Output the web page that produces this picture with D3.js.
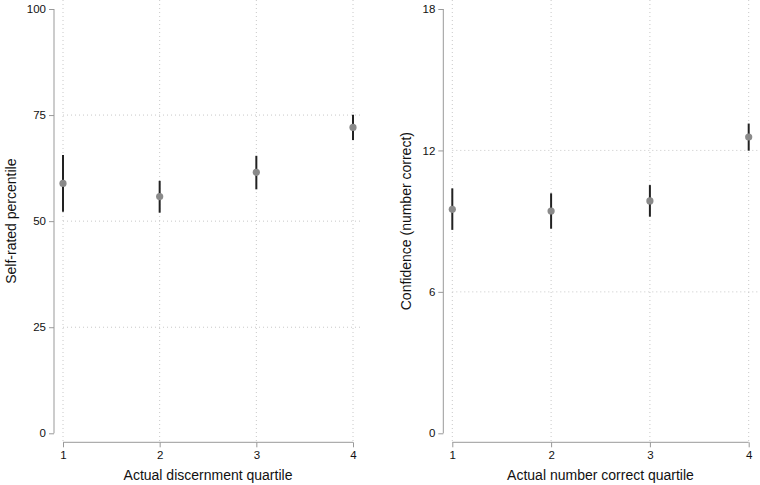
<!DOCTYPE html>
<html>
<head>
<meta charset="utf-8">
<script src="https://cdn.jsdelivr.net/npm/d3@7"></script>
<style>
  html, body { margin: 0; padding: 0; background: #fff; }
  svg { display: block; font-family: "Liberation Sans", Arial, Helvetica, sans-serif; }
</style>
</head>
<body>
<svg id="chart" width="760" height="485"></svg>
<script>
// ---- Data ----
const quartiles = [1, 2, 3, 4];

const leftMeans = [58.9, 55.8, 61.5, 72.1];
const leftLower = [52.2, 52.0, 57.5, 69.1];
const leftUpper = [65.6, 59.5, 65.4, 75.1];
const leftYTicks = [0, 25, 50, 75, 100];
const leftXLabel = "Actual discernment quartile";
const leftYLabel = "Self-rated percentile";

const rightMeans = [9.50, 9.43, 9.86, 12.57];
const rightLower = [8.63, 8.68, 9.19, 11.99];
const rightUpper = [10.39, 10.18, 10.53, 13.14];
const rightYTicks = [0, 6, 12, 18];
const rightXLabel = "Actual number correct quartile";
const rightYLabel = "Confidence (number correct)";

// ---- Drawing ----
const svg = d3.select("#chart");

function panel(cfg) {
  const g = svg.append("g");
  const x = d3.scaleLinear().domain([1, 4]).range([cfg.x0, cfg.x1]);
  const y = d3.scaleLinear().domain([0, cfg.ymax]).range([433.3, 9]);
  const gridCol = "#c8c8c8";

  // vertical grid lines
  g.selectAll(".vgrid").data(quartiles).join("line")
    .attr("x1", d => x(d)).attr("x2", d => x(d))
    .attr("y1", 0).attr("y2", 441)
    .attr("stroke", gridCol).attr("stroke-width", 1)
    .attr("stroke-dasharray", "1,3");

  // horizontal grid lines (interior ticks)
  g.selectAll(".hgrid").data(cfg.yticks.filter(t => t > 0 && t < cfg.ymax)).join("line")
    .attr("x1", cfg.x0).attr("x2", cfg.gridEnd)
    .attr("y1", d => y(d)).attr("y2", d => y(d))
    .attr("stroke", gridCol).attr("stroke-width", 1)
    .attr("stroke-dasharray", "1,3");

  // y axis
  const yAxis = d3.axisLeft(y).tickValues(cfg.yticks).tickSize(5).tickPadding(3).tickFormat(d3.format("d"));
  const ya = g.append("g").attr("transform", `translate(${cfg.yAxisX},0)`).call(yAxis);
  ya.select(".domain").attr("d", `M0,${y(cfg.ymax)}V${y(0)}`).attr("stroke", "#999");
  ya.selectAll(".tick line").attr("stroke", "#999");
  ya.selectAll(".tick text").attr("font-size", 11.5).attr("fill", "#111")
    .attr("font-family", "Liberation Sans, Arial, sans-serif");

  // x axis
  const xAxis = d3.axisBottom(x).tickValues(quartiles).tickSize(5).tickPadding(4).tickFormat(d3.format("d"));
  const xa = g.append("g").attr("transform", "translate(0,442.3)").call(xAxis);
  xa.select(".domain").attr("d", `M${x(1)},0H${x(4)}`).attr("stroke", "#999");
  xa.selectAll(".tick line").attr("stroke", "#999");
  xa.selectAll(".tick text").attr("font-size", 11.5).attr("fill", "#111")
    .attr("font-family", "Liberation Sans, Arial, sans-serif");

  // axis titles
  g.append("text")
    .attr("x", (x(1) + x(4)) / 2).attr("y", 480)
    .attr("text-anchor", "middle").attr("font-size", 14).attr("fill", "#111")
    .text(cfg.xlabel);
  g.append("text")
    .attr("transform", `translate(${cfg.ytitleX},${(y(0) + y(cfg.ymax)) / 2}) rotate(-90)`)
    .attr("text-anchor", "middle").attr("font-size", 14).attr("fill", "#111")
    .text(cfg.ylabel);

  // error bars
  g.selectAll(".ci").data(quartiles).join("line")
    .attr("x1", d => x(d)).attr("x2", d => x(d))
    .attr("y1", (d, i) => y(cfg.lower[i])).attr("y2", (d, i) => y(cfg.upper[i]))
    .attr("stroke", "#222").attr("stroke-width", 2);

  // points
  g.selectAll(".pt").data(quartiles).join("circle")
    .attr("cx", d => x(d)).attr("cy", (d, i) => y(cfg.means[i]))
    .attr("r", 3.6).attr("fill", "#8a8a8a");
}

panel({
  x0: 63, x1: 353, gridEnd: 360, yAxisX: 54, ytitleX: 16, ymax: 100,
  yticks: leftYTicks, means: leftMeans, lower: leftLower, upper: leftUpper,
  xlabel: leftXLabel, ylabel: leftYLabel
});
panel({
  x0: 452.3, x1: 748.7, gridEnd: 758, yAxisX: 443.3, ytitleX: 411, ymax: 18,
  yticks: rightYTicks, means: rightMeans, lower: rightLower, upper: rightUpper,
  xlabel: rightXLabel, ylabel: rightYLabel
});
</script>
</body>
</html>
